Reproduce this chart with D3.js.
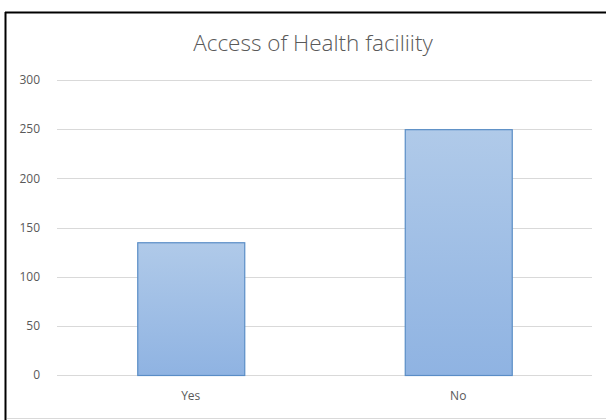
<!DOCTYPE html>
<html><head><meta charset="utf-8">
<script src="https://cdn.jsdelivr.net/npm/d3@7"></script>
<style>html,body{margin:0;padding:0;background:#fff;}svg{display:block;}</style>
</head><body>
<svg id="chart" width="606" height="420"></svg>
<script>
const title = "Access of Health faciliity";
const categories = ["Yes", "No"];
const values = [135, 250];
const yTicks = [0, 50, 100, 150, 200, 250, 300];

const svg = d3.select("#chart");
const W = 606, H = 420;
const m = {left: 57, right: 14, top: 80, bottom: 45};

// frame
svg.append("line").attr("x1", 5.5).attr("x2", 5.5).attr("y1", 12).attr("y2", 420).attr("stroke", "#000").attr("stroke-width", 2);
svg.append("line").attr("x1", 5).attr("x2", 606).attr("y1", 12.5).attr("y2", 12.5).attr("stroke", "#000").attr("stroke-width", 2);
svg.append("line").attr("x1", 7).attr("x2", 606).attr("y1", 418.5).attr("y2", 418.5).attr("stroke", "#d9d9d9").attr("stroke-width", 1);

const defs = svg.append("defs");
const grad = defs.append("linearGradient").attr("id", "barGrad").attr("x1", 0).attr("y1", 0).attr("x2", 0).attr("y2", 1);
grad.append("stop").attr("offset", "0%").attr("stop-color", "#b0cae9");
grad.append("stop").attr("offset", "100%").attr("stop-color", "#8fb3e2");

const x = d3.scaleBand().domain(categories).range([m.left, W - m.right]).paddingInner(0.6).paddingOuter(0.3);
const y = d3.scaleLinear().domain([0, 300]).range([375, 80]);

// gridlines
svg.append("g").selectAll("line").data(yTicks).join("line")
  .attr("x1", m.left).attr("x2", W - m.right)
  .attr("y1", d => Math.round(y(d)) + 0.5).attr("y2", d => Math.round(y(d)) + 0.5)
  .attr("stroke", "#d9d9d9").attr("stroke-width", 1);

// y labels
svg.append("g").selectAll("text").data(yTicks).join("text")
  .attr("x", 40).attr("y", d => y(d)).attr("dy", "0.35em")
  .attr("text-anchor", "end").attr("fill", "#595959")
  .attr("font-family", "'Open Sans', sans-serif").attr("font-size", 12)
  .text(d => d);

// bars
svg.append("g").selectAll("rect").data(categories).join("rect")
  .attr("x", d => x(d) + 0.5)
  .attr("y", (d, i) => y(values[i]) + 0.5)
  .attr("width", x.bandwidth())
  .attr("height", (d, i) => y(0) - y(values[i]))
  .attr("fill", "url(#barGrad)")
  .attr("stroke", "#5a8dc6").attr("stroke-width", 1.2);

// x labels
svg.append("g").selectAll("text").data(categories).join("text")
  .attr("x", d => x(d) + x.bandwidth() / 2).attr("y", 396).attr("dy", "0.35em")
  .attr("text-anchor", "middle").attr("fill", "#595959")
  .attr("font-family", "'Open Sans', sans-serif").attr("font-size", 12)
  .text(d => d);

// title
svg.append("text").attr("x", 313).attr("y", 43).attr("dy", "0.35em")
  .attr("text-anchor", "middle").attr("fill", "#595959")
  .attr("font-family", "'Open Sans', sans-serif").attr("font-size", 22.5).attr("font-weight", 300)
  .text(title);
</script>
</body></html>
